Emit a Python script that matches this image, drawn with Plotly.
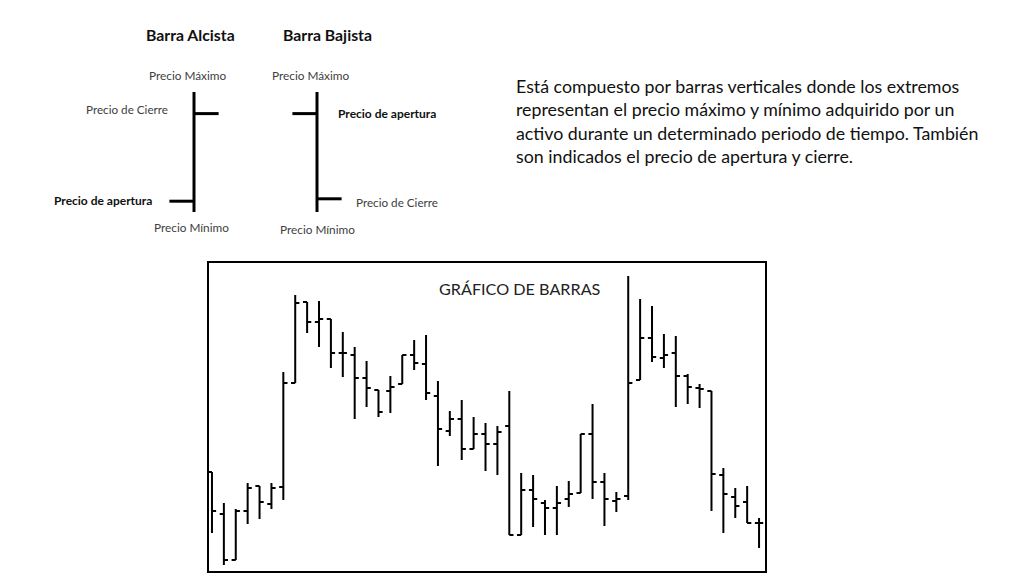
import plotly.graph_objects as go

# OHLC values (price units)
opens = [108, 66, 20, 69, 94, 76, 93, 197, 278, 258, 261, 227, 225, 202, 190, 189,
         196, 225, 216, 184, 149, 161, 131, 146, 136, 154, 45, 90, 77, 72, 81, 87,
         146, 98, 79, 84, 200, 242, 222, 227, 204, 192, 189, 105, 83, 78, 57]
highs = [108, 77, 71, 97, 94, 97, 208, 285, 278, 279, 261, 248, 233, 219, 190, 204,
         225, 240, 245, 199, 169, 180, 163, 157, 154, 189, 107, 105, 80, 94, 99, 146,
         176, 107, 88, 304, 281, 274, 246, 244, 206, 196, 189, 112, 92, 94, 62]
lows = [47, 15, 20, 56, 61, 71, 80, 197, 247, 233, 212, 203, 161, 173, 163, 167,
        196, 210, 180, 114, 144, 120, 131, 109, 105, 45, 45, 53, 45, 45, 73, 87,
        81, 54, 68, 80, 200, 218, 212, 173, 176, 172, 69, 47, 62, 57, 32]
closes = [69, 20, 69, 92, 78, 92, 197, 277, 258, 261, 227, 227, 202, 192, 168, 193,
          225, 217, 187, 151, 161, 131, 146, 136, 148, 45, 90, 81, 72, 77, 86, 146,
          98, 81, 81, 197, 242, 223, 225, 204, 193, 191, 106, 86, 74, 57, 57]
periods = list(range(len(opens)))

# the two example bars of the legend drawing
demo_names = ["Barra Alcista", "Barra Bajista"]
demo_open = [9, 82]
demo_high = [100, 100]
demo_low = [0, 0]
demo_close = [82, 11]

paragraph = [
    "Está compuesto por barras verticales donde los extremos",
    "representan el precio máximo y mínimo adquirido por un",
    "activo durante un determinado periodo de tiempo. También",
    "son indicados el precio de apertura y cierre.",
]

W, H = 1024, 576
FONT = "Lato"

fig = go.Figure()

fig.add_trace(go.Ohlc(
    x=periods, open=opens, high=highs, low=lows, close=closes,
    increasing_line_color="black", decreasing_line_color="black",
    line_width=2, tickwidth=0.35, hoverinfo="skip", showlegend=False,
))

# legend drawing: vertical low-high line, open tick left, close tick right
tick = 0.2
xs, ys = [], []
for i in range(len(demo_names)):
    xs += [i, i, None, i - tick, i, None, i, i + tick, None]
    ys += [demo_low[i], demo_high[i], None, demo_open[i], demo_open[i], None,
           demo_close[i], demo_close[i], None]
fig.add_trace(go.Scatter(
    x=xs, y=ys, mode="lines", line=dict(color="black", width=3),
    xaxis="x2", yaxis="y2", hoverinfo="skip", showlegend=False,
))

def px(x, y):
    return x / W, 1 - y / H

annotations = []

def label(text, x, y, size, bold=False, color="#404040", anchor="center"):
    ax, ay = px(x, y)
    annotations.append(dict(
        text="<b>%s</b>" % text if bold else text, x=ax, y=ay, xref="paper", yref="paper",
        xanchor=anchor, yanchor="middle", showarrow=False,
        font=dict(family=FONT, size=size, color=color),
    ))

label(demo_names[0], 190, 34, 15.8, bold=True, color="#111111")
label(demo_names[1], 327, 34, 15.8, bold=True, color="#111111")
label("Precio Máximo", 187, 75, 11.8)
label("Precio Máximo", 310, 75, 11.8)
label("Precio de Cierre", 127, 109, 11.7)
label("Precio de apertura", 103, 201, 12, bold=True, color="#111111")
label("Precio Mínimo", 191, 228, 11.8)
label("Precio de apertura", 387, 113, 12, bold=True, color="#111111")
label("Precio de Cierre", 397, 202, 11.7)
label("Precio Mínimo", 317, 229, 11.8)

for k, line in enumerate(paragraph):
    label(line, 514, 86 + k * 23.5, 17.8, color="#111111", anchor="left")

label("GRÁFICO DE BARRAS", 520, 288, 16.2, color="#222222")

fig.update_layout(
    width=W, height=H,
    margin=dict(l=0, r=0, t=0, b=0),
    paper_bgcolor="white", plot_bgcolor="white",
    annotations=annotations,
    hovermode=False,
    xaxis=dict(
        domain=[209 / W, 765 / W], range=[-0.25, 46.5],
        showgrid=False, zeroline=False, showticklabels=False, ticks="",
        showline=True, mirror=True, linecolor="black", linewidth=2,
        rangeslider=dict(visible=False),
    ),
    yaxis=dict(
        domain=[1 - 571 / H, 1 - 263 / H], range=[9, 317],
        showgrid=False, zeroline=False, showticklabels=False, ticks="",
        showline=True, mirror=True, linecolor="black", linewidth=2,
    ),
    xaxis2=dict(domain=[71 / W, 440 / W], range=[-1, 2], visible=False, anchor="y2"),
    yaxis2=dict(domain=[1 - 212 / H, 1 - 92 / H], range=[0, 100], visible=False, anchor="x2"),
)

# the page body has a default 8px margin; drop it so the figure sits at 0,0
fig.write_html("out.html", config={"displayModeBar": False},
               post_script="document.body.style.margin = '0';")
